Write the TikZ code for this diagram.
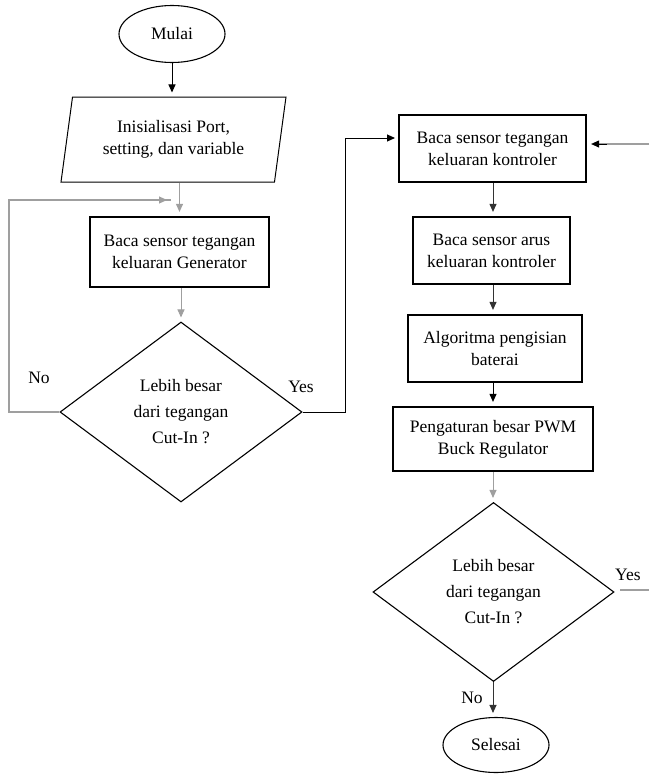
\documentclass[tikz,border=0pt]{standalone}
\usepackage{fontspec}
\setmainfont{Liberation Serif}
\usetikzlibrary{shapes.geometric,arrows.meta}
\tikzset{
  every node/.style={font=\fontsize{17.5}{22}\selectfont, align=center, inner sep=0pt},
  term/.style={ellipse, draw, line width=1.1pt, minimum width=106pt, minimum height=57pt},
  proc/.style={rectangle, draw, line width=2.2pt},
  io/.style={trapezium, draw, line width=1pt, trapezium left angle=78, trapezium right angle=102, trapezium stretches=true, minimum width=225pt, minimum height=85pt},
  dec/.style={diamond, draw, line width=1.1pt, aspect=1.34, minimum width=242pt, minimum height=180pt, font=\fontsize{17.5}{26}\selectfont},
  arr/.style={-{Triangle[length=8pt,width=7pt]}, line width=1pt, shorten >=4pt},
  garr/.style={arr, draw=gray!75},
  gline/.style={line width=1.2pt, draw=gray!75},
  bline/.style={line width=1pt},
  lbl/.style={font=\fontsize{17.5}{22}\selectfont}
}
\begin{document}
\begin{tikzpicture}[x=1pt,y=-1pt]
\useasboundingbox (0,0) rectangle (649,782);
% left column
\node[term] (start) at (172,34) {Mulai};
\node[io] (init) at (173.5,139.5) {Inisialisasi Port,\\setting, dan variable};
\node[proc, minimum width=179pt, minimum height=70pt] (b1) at (179.5,252) {Baca sensor tegangan\\keluaran Generator};
\node[dec] (d1) at (181,412) {Lebih besar\\dari tegangan\\Cut-In ?};
% right column
\node[proc, minimum width=187pt, minimum height=67pt] (c1) at (492.5,148.5) {Baca sensor tegangan\\keluaran kontroler};
\node[proc, minimum width=157pt, minimum height=67pt] (c2) at (491.5,250.5) {Baca sensor arus\\keluaran kontroler};
\node[proc, minimum width=174pt, minimum height=67pt] (c3) at (495,348.5) {Algoritma pengisian\\baterai};
\node[proc, minimum width=200pt, minimum height=64pt] (c4) at (493,439) {Pengaturan besar PWM\\Buck Regulator};
\node[dec, minimum width=241pt, minimum height=179pt] (d2) at (493.5,592) {Lebih besar\\dari tegangan\\Cut-In ?};
\node[term, minimum height=55pt] (end) at (496,745) {Selesai};
% labels
\node[lbl] (lno1) at (39,378) {No};
\node[lbl] (lyes1) at (301,387) {Yes};
\node[lbl, anchor=west] (lyes2) at (615,575) {Yes};
\node[lbl] (lno2) at (472,698) {No};
% helper coordinates
\coordinate (lp1) at (9,412);
\coordinate (lp2) at (9,200);
\coordinate (lp3) at (180,200);
\coordinate (rp1) at (345,412);
\coordinate (rp2) at (345,138);
\coordinate (rp3) at (399,138);
\coordinate (rin) at (649,144);
\coordinate (yout) at (649,590);
\coordinate (yst) at (620,590);
% connectors left
\draw[arr] (start) -- (start |- init.north);
\draw[garr] (init.south -| b1.north) -- (b1.north);
\draw[garr] (b1.south -| d1.north) -- (d1.north);
\draw[gline] (d1.west) -- (lp1) -- (lp2) -- ([xshift=-9pt]lp3);
\draw[arr, draw=gray!75] ([xshift=-20pt]lp3) -- ([xshift=-9pt]lp3);
\draw[bline] (d1.east) -- (rp1) -- (rp2) -- ([xshift=-10pt]rp3);
\draw[arr] ([xshift=-20pt]rp3) -- (rp3);
% connectors right
\draw[arr, draw=gray!40!black] (c1.south -| 493,0) -- (c2.north -| 493,0);
\draw[arr, draw=gray!40!black] (c2.south -| 493,0) -- (c3.north -| 493,0);
\draw[arr] (c3.south -| 493,0) -- (c4.north -| 493,0);
\draw[garr] (c4.south -| 493,0) -- (d2.north -| 493,0);
\draw[arr, draw=gray!40!black] (d2.south -| 493,0) -- (end.north -| 493,0);
\draw[gline] (rin) -- ([xshift=10pt]c1.east |- rin);
\draw[arr] ([xshift=20pt]c1.east |- rin) -- (c1.east |- rin);
\draw[gline] (yst) -- (yout);
\end{tikzpicture}
\end{document}
